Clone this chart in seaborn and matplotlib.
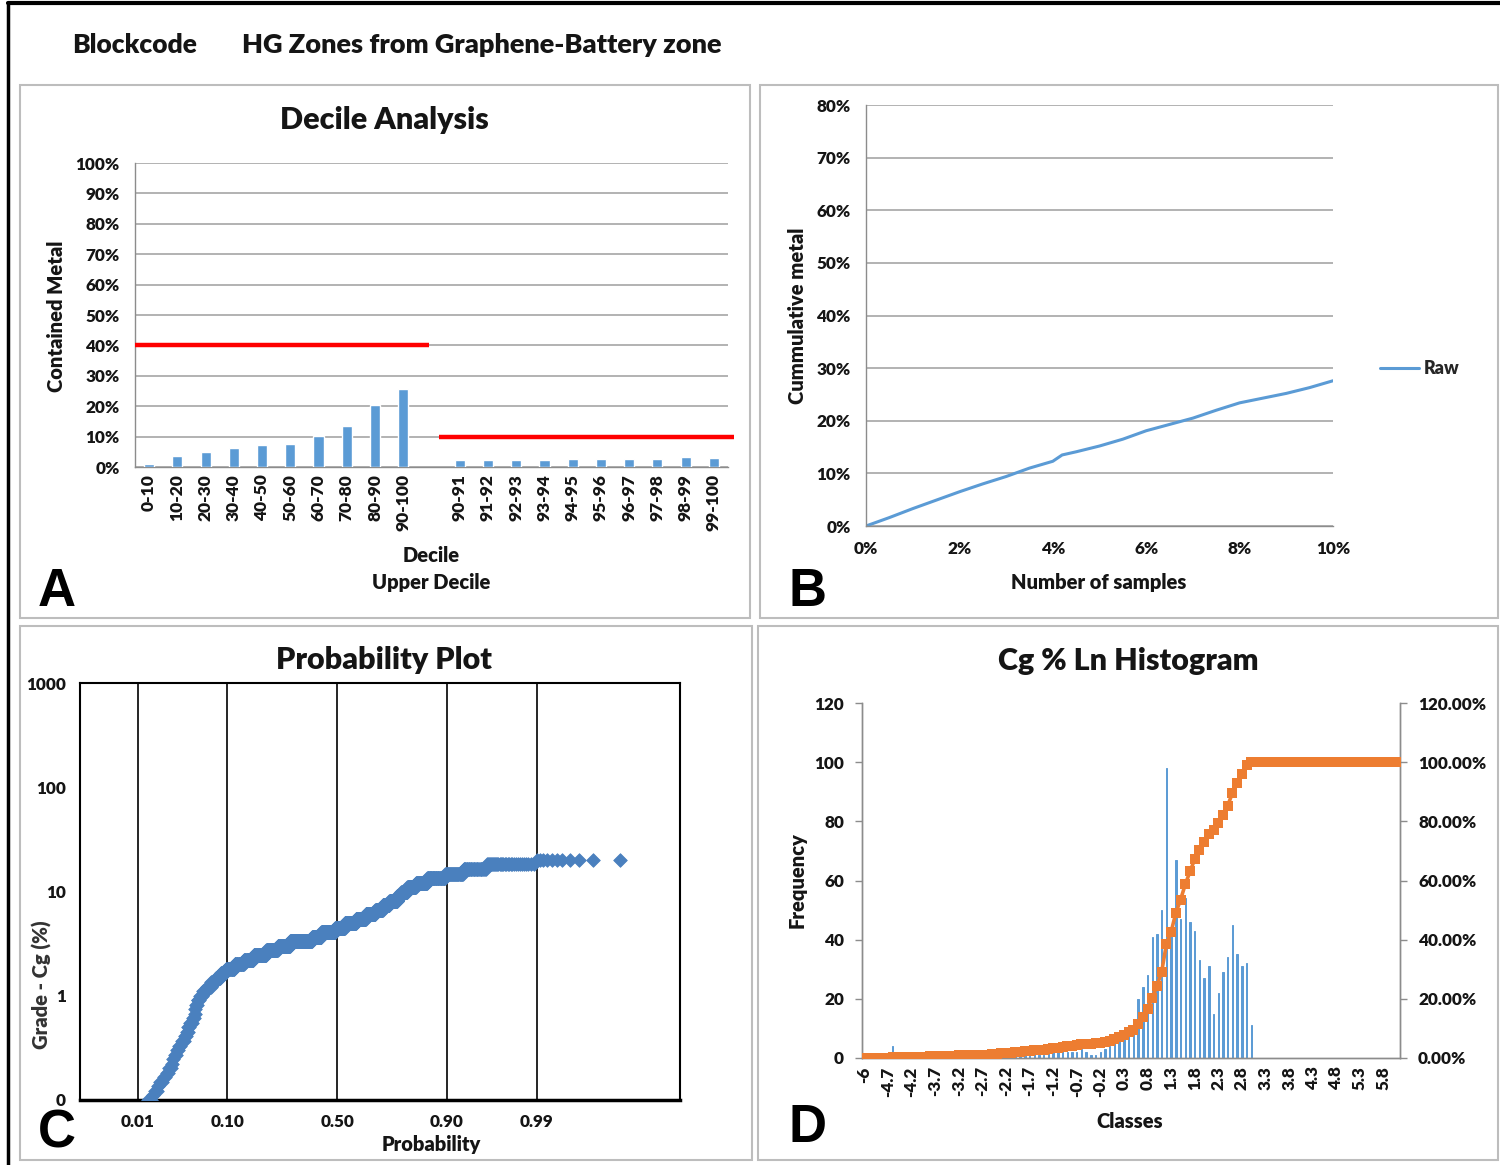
import numpy as np
import pandas as pd
import matplotlib
matplotlib.use("Agg")
import matplotlib.pyplot as plt
from matplotlib import font_manager as fm
from matplotlib.patches import Rectangle
from matplotlib.lines import Line2D
from matplotlib.ticker import FixedLocator, NullFormatter, LogLocator
import seaborn as sns
from statistics import NormalDist

# ---------------- data ----------------
# Decile analysis (share of contained metal)
decile_labels = ["0-10", "10-20", "20-30", "30-40", "40-50",
                 "50-60", "60-70", "70-80", "80-90", "90-100"]
decile_metal = [0.010, 0.035, 0.050, 0.062, 0.072, 0.076, 0.101, 0.134, 0.204, 0.256]
upper_labels = ["90-91", "91-92", "92-93", "93-94", "94-95",
                "95-96", "96-97", "97-98", "98-99", "99-100"]
upper_metal = [0.023, 0.023, 0.023, 0.023, 0.026, 0.026, 0.026, 0.026, 0.032, 0.028]
decile_limit = 0.40
upper_limit = 0.10

# Cumulative metal against proportion of samples
sample_frac = [0.000, 0.005, 0.010, 0.015, 0.020, 0.025, 0.030, 0.035, 0.040,
               0.042, 0.045, 0.050, 0.055, 0.060, 0.065, 0.070, 0.075, 0.080,
               0.085, 0.090, 0.095, 0.100]
cum_metal = [0.000, 0.016, 0.033, 0.049, 0.065, 0.080, 0.094, 0.110, 0.123,
             0.135, 0.141, 0.152, 0.165, 0.181, 0.193, 0.205, 0.220, 0.234,
             0.243, 0.252, 0.263, 0.276]

# Ln(Cg %) histogram classes and frequencies
class_values = [-6.0] + [round(v, 1) for v in np.arange(-5.1, 6.15, 0.1)]
frequency = ([0, 0, 0, 0, 0, 0, 4]
             + [0, 0, 0, 1, 0, 0, 0, 1, 0, 0, 1, 0, 1]
             + [1, 0, 1, 0, 1, 0, 1, 1]
             + [1, 2, 1, 2, 1, 2]
             + [2, 2, 2]
             + [1, 1, 2, 2, 2, 3, 2, 2, 2, 3, 2, 1, 1]
             + [2, 3, 4, 6, 7, 8, 9, 10, 20, 24, 28, 41, 42, 50, 98, 44, 67,
                47, 54, 46, 43, 33, 27, 31, 15, 22, 29, 34, 45, 35, 31, 32, 11]
             + [0] * 31)

prob_ticks = [0.01, 0.10, 0.50, 0.90, 0.99]

# ---------------- style ----------------
sns.set_theme(style="white")


def has_bold(name):
    for f in fm.fontManager.ttflist:
        if f.name != name:
            continue
        w = f.weight
        if isinstance(w, str):
            w = fm.weight_dict.get(w, 400)
        if w >= 600:
            return True
    return False


FAMILY = next((n for n in ["Lato", "Roboto", "Noto Sans", "Open Sans", "Liberation Sans"]
               if has_bold(n)), "DejaVu Sans")
plt.rcParams["font.family"] = [FAMILY, "DejaVu Sans"]
plt.rcParams["axes.linewidth"] = 1.0

BW = "heavy"          # text weight used throughout
BLUE = "#5B9BD5"
DIAMOND = "#4A80BE"
ORANGE = "#ED7D31"
GRID = "#A6A6A6"
AXIS = "#8C8C8C"
TXT = "#151515"
TICK = 12.3
LBL = 14.5
TITLE = 22

W, H = 1500, 1165
fig = plt.figure(figsize=(W / 100, H / 100), dpi=100)
fig.patch.set_facecolor("white")


def ax_at(x0, y0, x1, y1):
    return fig.add_axes([x0 / W, 1 - y1 / H, (x1 - x0) / W, (y1 - y0) / H])


def ftext(x, y, s, **kw):
    kw.setdefault("color", TXT)
    kw.setdefault("fontweight", BW)
    fig.text(x / W, 1 - y / H, s, **kw)


def frame(x0, y0, x1, y1):
    fig.patches.append(Rectangle((x0 / W, 1 - y1 / H), (x1 - x0) / W, (y1 - y0) / H,
                                 transform=fig.transFigure, fill=False,
                                 edgecolor="#BDBDBD", lw=1.5))


# outer border and header
fig.lines.append(Line2D([8 / W, 1], [1 - 3 / H, 1 - 3 / H], transform=fig.transFigure,
                        color="black", lw=3))
fig.lines.append(Line2D([8 / W, 8 / W], [0, 1 - 3 / H], transform=fig.transFigure,
                        color="black", lw=2.5))
ftext(72, 45, "Blockcode", fontsize=19, ha="left", va="center")
ftext(242, 45, "HG Zones from Graphene-Battery zone", fontsize=19.5, ha="left", va="center")

frame(20, 85, 750, 618)
frame(760, 85, 1498, 618)
frame(20, 626, 752, 1160)
frame(758, 626, 1498, 1160)

tick_kw = dict(labelsize=TICK, colors=AXIS, labelcolor=TXT)


def bold_ticks(ax):
    for lab in ax.get_xticklabels() + ax.get_yticklabels():
        lab.set_fontweight(BW)


# ---------------- A: decile analysis ----------------
axA = ax_at(135, 163, 728, 467)
df_a = pd.DataFrame({"decile": decile_labels + upper_labels,
                     "metal": decile_metal + upper_metal})
order_a = decile_labels + [" "] + upper_labels
sns.barplot(data=df_a, x="decile", y="metal", order=order_a, color=BLUE,
            saturation=1, width=0.36, ax=axA, zorder=3)
axA.set_ylim(0, 1.0)
axA.set_xlim(-0.5, len(order_a) - 0.5)
axA.set_yticks(np.arange(0, 1.01, 0.1))
axA.set_yticklabels([f"{int(round(v * 100))}%" for v in np.arange(0, 1.01, 0.1)])
axA.yaxis.grid(True, color=GRID, lw=1.2)
axA.set_axisbelow(True)
axA.set_xticks(range(len(order_a)))
axA.set_xticklabels(order_a, rotation=90)
axA.xaxis.set_minor_locator(FixedLocator(np.arange(-0.5, len(order_a), 1)))
axA.tick_params(axis="x", which="major", length=0, pad=5, **tick_kw)
axA.tick_params(axis="x", which="major", labelsize=12.5)
axA.tick_params(axis="x", which="minor", length=5, color=AXIS, width=1)
axA.tick_params(axis="y", length=5, width=1, pad=6, **tick_kw)
for s in ["top", "right"]:
    axA.spines[s].set_visible(False)
for s in ["left", "bottom"]:
    axA.spines[s].set_color(AXIS)
axA.plot([-0.5, 9.9], [decile_limit, decile_limit], color="#FF0000", lw=3.2,
         solid_capstyle="butt", zorder=4)
axA.plot([10.25, 20.7], [upper_limit, upper_limit], color="#FF0000", lw=3.2,
         solid_capstyle="butt", zorder=4, clip_on=False)
axA.set_xlabel("")
axA.set_ylabel("")
bold_ticks(axA)
ftext(384, 120, "Decile Analysis", fontsize=TITLE, ha="center", va="center")
ftext(57, 316, "Contained Metal", fontsize=LBL, rotation=90, ha="center", va="center")
ftext(431, 555, "Decile", fontsize=LBL, ha="center", va="center")
ftext(431, 582, "Upper Decile", fontsize=LBL, ha="center", va="center")
ftext(57, 592, "A", fontsize=38, fontweight="bold", ha="center", va="center",
      family="Liberation Sans", color="black")

# ---------------- B: cumulative metal ----------------
axB = ax_at(866, 105, 1333, 526)
sns.lineplot(x=sample_frac, y=cum_metal, color=BLUE, lw=2.2, ax=axB, label="Raw")
axB.set_xlim(0, 0.10)
axB.set_ylim(0, 0.80)
axB.set_yticks(np.arange(0, 0.81, 0.1))
axB.set_yticklabels([f"{int(round(v * 100))}%" for v in np.arange(0, 0.81, 0.1)])
axB.set_xticks(np.arange(0, 0.101, 0.02))
axB.set_xticklabels([f"{int(round(v * 100))}%" for v in np.arange(0, 0.101, 0.02)])
axB.yaxis.grid(True, color=GRID, lw=1.2)
axB.set_axisbelow(True)
axB.tick_params(axis="both", length=5, width=1, pad=6, **tick_kw)
for s in ["top", "right"]:
    axB.spines[s].set_visible(False)
for s in ["left", "bottom"]:
    axB.spines[s].set_color(AXIS)
leg = axB.legend(loc="center left", bbox_to_anchor=(1.1, 0.373), frameon=False,
                 handlelength=2.2, handletextpad=0.25, borderpad=0, borderaxespad=0,
                 prop={"size": 13, "weight": BW})
axB.set_xlabel("")
axB.set_ylabel("")
bold_ticks(axB)
ftext(797, 316, "Cummulative metal", fontsize=LBL, rotation=90, ha="center", va="center")
ftext(1099, 583, "Number of samples", fontsize=LBL, ha="center", va="center")
ftext(808, 592, "B", fontsize=38, fontweight="bold", ha="center", va="center",
      family="Liberation Sans", color="black")

# ---------------- C: probability plot ----------------
nd = NormalDist()
grades = np.sort(np.repeat(np.exp(np.array(class_values)), frequency))
n_samples = len(grades)
plot_pos = (np.arange(1, n_samples + 1) - 0.5) / n_samples
z_scores = np.array([nd.inv_cdf(p) for p in plot_pos])

axC = ax_at(80, 683, 680, 1100)
sns.scatterplot(x=z_scores, y=grades, marker="D", s=48, color=DIAMOND,
                edgecolor=DIAMOND, linewidth=0.6, ax=axC, zorder=3)
axC.set_yscale("log")
axC.set_ylim(0.1, 1000)
axC.set_xlim(-3.0, 4.0)
for p in prob_ticks:
    axC.axvline(nd.inv_cdf(p), color="black", lw=1.2, zorder=1)
axC.set_xticks([nd.inv_cdf(p) for p in prob_ticks])
axC.set_xticklabels([f"{p:.2f}" for p in prob_ticks])
axC.set_yticks([0.1, 1, 10, 100, 1000])
axC.set_yticklabels(["0", "1", "10", "100", "1000"])
axC.yaxis.set_minor_locator(LogLocator(base=10, subs=np.arange(2, 10), numticks=20))
axC.yaxis.set_minor_formatter(NullFormatter())
axC.tick_params(axis="x", length=0, pad=10, labelsize=TICK, labelcolor=TXT)
axC.tick_params(axis="y", which="major", length=6, width=1.2, color="black",
                pad=4, labelsize=TICK, labelcolor=TXT, direction="out")
axC.tick_params(axis="y", which="minor", length=3.5, width=1, color="black",
                direction="out")
for s in axC.spines.values():
    s.set_color("black")
    s.set_linewidth(1.5)
axC.spines["bottom"].set_linewidth(2.5)
axC.set_xlabel("")
axC.set_ylabel("")
bold_ticks(axC)
ftext(384, 660, "Probability Plot", fontsize=TITLE, ha="center", va="center")
ftext(431, 1144, "Probability", fontsize=LBL, ha="center", va="center")
ftext(42, 985, "Grade - Cg (%)", fontsize=14.5, rotation=90,
      ha="center", va="center", color="#333333")
ftext(57, 1133, "C", fontsize=38, fontweight="bold", ha="center", va="center",
      family="Liberation Sans", color="black")

# ---------------- D: ln histogram ----------------
n_cls = len(class_values)
freq_arr = np.array(frequency)
cum_share = np.cumsum(freq_arr) / freq_arr.sum()

axD = ax_at(862, 703, 1400, 1058)
df_d = pd.DataFrame({"k": np.arange(n_cls), "freq": freq_arr})
sns.barplot(data=df_d, x="k", y="freq", color=BLUE, saturation=1, width=0.3,
            edgecolor=BLUE, linewidth=0.7, ax=axD, zorder=2)
axD.set_xlim(-0.5, n_cls - 0.5)
axD.set_ylim(0, 120)
axD.set_yticks(np.arange(0, 121, 20))
axD.set_yticklabels([str(v) for v in range(0, 121, 20)])
lab_idx = list(range(0, n_cls - 3, 5))
axD.set_xticks(lab_idx)
axD.set_xticklabels([f"{class_values[i]:g}" for i in lab_idx], rotation=90)
axD.xaxis.set_minor_locator(FixedLocator(np.arange(-0.5, n_cls, 1)))
axD.tick_params(axis="x", which="major", length=0, pad=6, **tick_kw)
axD.tick_params(axis="x", which="minor", length=4, color=AXIS, width=0.8)
axD.tick_params(axis="y", length=5, width=1, pad=8, **tick_kw)
axD.spines["top"].set_visible(False)
for s in ["left", "bottom", "right"]:
    axD.spines[s].set_color(AXIS)
axD.set_xlabel("")
axD.set_ylabel("")
bold_ticks(axD)

axD2 = axD.twinx()
sns.lineplot(x=np.arange(n_cls), y=cum_share, color=ORANGE, lw=2.6, marker="s",
             markersize=7.2, markeredgecolor=ORANGE, markeredgewidth=0, ax=axD2,
             zorder=5)
axD2.set_ylim(0, 1.2)
axD2.set_yticks(np.arange(0, 1.21, 0.2))
axD2.set_yticklabels([f"{v * 100:.2f}%" for v in np.arange(0, 1.21, 0.2)])
axD2.tick_params(axis="y", length=5, width=1, pad=8, **tick_kw)
axD2.spines["top"].set_visible(False)
for s in ["left", "bottom", "right"]:
    axD2.spines[s].set_color(AXIS)
axD2.set_ylabel("")
for lab in axD2.get_yticklabels():
    lab.set_fontweight(BW)
ftext(1128, 661, "Cg % Ln Histogram", fontsize=TITLE, ha="center", va="center")
ftext(797, 880, "Frequency", fontsize=LBL, rotation=90, ha="center", va="center")
ftext(1130, 1121, "Classes", fontsize=LBL, ha="center", va="center")
ftext(808, 1128, "D", fontsize=38, fontweight="bold", ha="center", va="center",
      family="Liberation Sans", color="black")

fig.savefig("out.png", dpi=100, facecolor="white")
